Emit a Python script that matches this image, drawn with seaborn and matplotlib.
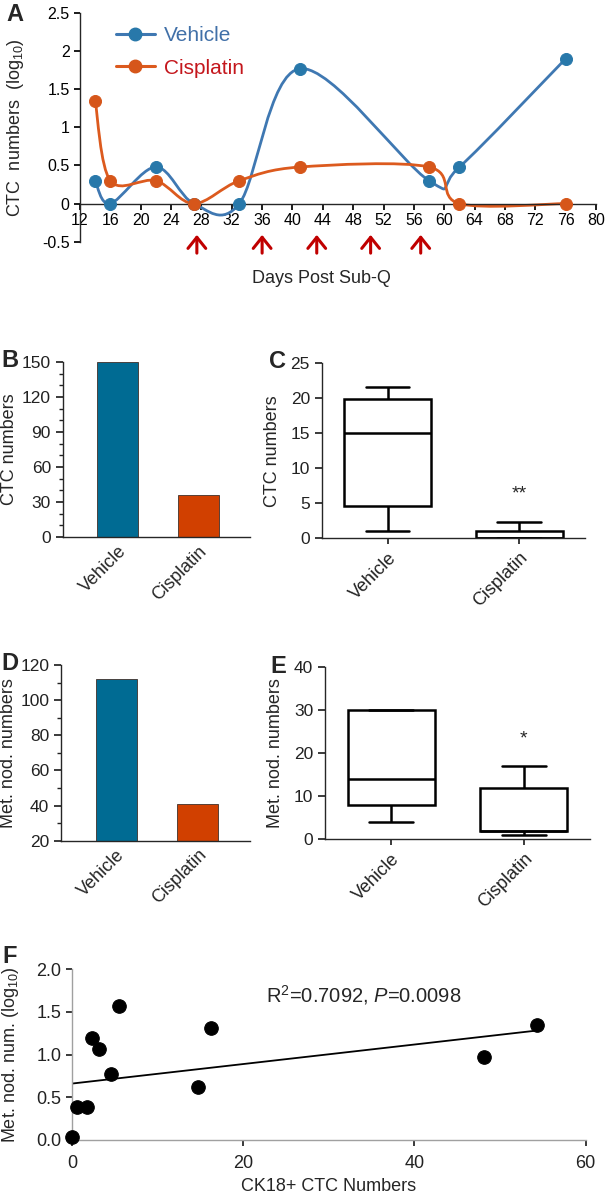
import numpy as np
import pandas as pd
import seaborn as sns
import matplotlib.pyplot as plt
from matplotlib.path import Path
from matplotlib.patches import PathPatch
from matplotlib.lines import Line2D
from matplotlib.ticker import FuncFormatter, MultipleLocator

# ---- data ----
days = [14, 16, 22, 27, 33, 41, 58, 62, 76]
log_ctc_vehicle = [0.30, 0.0, 0.48, 0.0, 0.0, 1.77, 0.30, 0.48, 1.90]
log_ctc_cisplatin = [1.35, 0.30, 0.30, 0.0, 0.30, 0.48, 0.48, 0.0, 0.0]
dose_days = [27.4, 36, 43.2, 50.3, 56.9]

groups = ['Vehicle', 'Cisplatin']
ctc_totals = [150, 36]
nodule_totals = [112, 41]

# five-number summaries (min, q1, median, q3, max)
ctc_vehicle = [1.0, 4.6, 15.0, 19.9, 21.6]
ctc_cisplatin = [0.0, 0.0, 0.0, 1.0, 2.4]
nod_vehicle = [4, 8, 14, 30, 30]
nod_cisplatin = [1, 2, 2, 12, 17]

ck18_ctc = [0.0, 0.6, 1.7, 2.3, 3.2, 4.6, 5.5, 14.7, 16.2, 48.1, 54.3]
log_nodules = [0.03, 0.39, 0.39, 1.19, 1.06, 0.77, 1.57, 0.62, 1.31, 0.97, 1.34]
fit_x = [0, 54.3]
fit_y = [0.66, 1.28]

# ---- style ----
sns.set_theme(style='ticks')
plt.rcParams['font.family'] = ['Liberation Sans', 'DejaVu Sans']
plt.rcParams['mathtext.fontset'] = 'custom'
plt.rcParams['mathtext.rm'] = 'Liberation Sans'
plt.rcParams['mathtext.it'] = 'Liberation Sans:italic'
plt.rcParams['axes.linewidth'] = 1.0

veh_line, veh_mark, veh_text = '#3F78B2', '#2878AA', '#4170A8'
cis_line, cis_mark, cis_text = '#DC5A1E', '#D6561A', '#C4161C'
bar_colors = ['#006B93', '#D14000']

W, H = 605, 1199


def px_axes(left, top, right, bottom):
    return [left / W, 1 - bottom / H, (right - left) / W, (bottom - top) / H]


def smooth_path(xs, ys):
    # Excel-like smoothed line: cubic bezier through the points
    pts = np.column_stack([xs, ys]).astype(float)
    ext = np.vstack([pts[:1], pts, pts[-1:]])
    verts = [pts[0]]
    codes = [Path.MOVETO]
    for i in range(len(pts) - 1):
        p0, p1, p2, p3 = ext[i], ext[i + 1], ext[i + 2], ext[i + 3]
        verts += [p1 + (p2 - p0) / 6, p2 - (p3 - p1) / 6, p2]
        codes += [Path.CURVE4] * 3
    return Path(verts, codes)


fig = plt.figure(figsize=(W / 100, H / 100), dpi=100)

# ---- A: time course ----
axA = fig.add_axes(px_axes(80, 13, 596, 241.7))
for ys, lc, mc in [(log_ctc_vehicle, veh_line, veh_mark), (log_ctc_cisplatin, cis_line, cis_mark)]:
    axA.add_patch(PathPatch(smooth_path(days, ys), facecolor='none', edgecolor=lc, lw=2.0))
    sns.scatterplot(x=days, y=ys, color=mc, s=75, edgecolor=mc, zorder=3, ax=axA, legend=False)
axA.set_xlim(12, 80)
axA.set_ylim(-0.5, 2.5)
axA.set_xticks(range(12, 81, 4))
axA.set_yticks(np.arange(-0.5, 2.51, 0.5))
axA.yaxis.set_major_formatter(FuncFormatter(lambda v, p: f'{v:g}'))
axA.spines['bottom'].set_position(('data', 0))
axA.spines[['top', 'right']].set_visible(False)
axA.tick_params(labelsize=11.5, length=4, colors='black')
axA.tick_params(axis='x', pad=3)
axA.set_ylabel('CTC  numbers  (log$_{10}$)', fontsize=13)
axA.yaxis.set_label_coords(-0.105, 0.5)
axA.set_xlabel('Days Post Sub-Q', fontsize=13)
axA.xaxis.set_label_coords(0.467, -0.125)
for d in dose_days:
    axA.annotate('', xy=(d, -0.41), xytext=(d, -0.65),
                 arrowprops=dict(arrowstyle='->,head_length=0.4,head_width=0.32', color='#C00000',
                                 lw=2.2, mutation_scale=20, shrinkA=0, shrinkB=0, clip_on=False),
                 annotation_clip=False)
handles = [Line2D([], [], color=veh_line, lw=2.2, marker='o', ms=9, mfc=veh_mark, mec=veh_mark),
           Line2D([], [], color=cis_line, lw=2.2, marker='o', ms=9, mfc=cis_mark, mec=cis_mark)]
leg = axA.legend(handles, groups, loc='upper left', bbox_to_anchor=(116 / W, 1 - 26 / H),
                 bbox_transform=fig.transFigure, frameon=False, fontsize=15,
                 handlelength=1.85, handletextpad=0.45, labelspacing=0.65,
                 borderpad=0, borderaxespad=0)
for t, c in zip(leg.get_texts(), [veh_text, cis_text]):
    t.set_color(c)


def bar_panel(ax, values, ylim, major, ylabel):
    sns.barplot(x=groups, y=values, hue=groups, palette=bar_colors, saturation=1, width=0.5,
                edgecolor='#40302a', linewidth=0.6, legend=False, ax=ax)
    ax.set_xlim(-0.68, 1.64)
    ax.set_ylim(*ylim)
    ax.yaxis.set_major_locator(MultipleLocator(major))
    ax.yaxis.set_minor_locator(MultipleLocator(10))
    ax.spines[['top', 'right']].set_visible(False)
    ax.tick_params(axis='y', which='major', length=5, labelsize=12.5, colors='#222222')
    ax.tick_params(axis='y', which='minor', length=3, colors='#222222')
    ax.tick_params(axis='x', length=0, labelsize=13, pad=4)
    ax.set_ylabel(ylabel, fontsize=13)
    ax.set_xlabel('')
    plt.setp(ax.get_xticklabels(), rotation=45, ha='right', rotation_mode='anchor')


def box_panel(ax, v_stats, c_stats, ylim, major, ylabel, star, star_y):
    df = pd.DataFrame({'group': [groups[0]] * len(v_stats) + [groups[1]] * len(c_stats),
                       'value': v_stats + c_stats})
    sns.boxplot(data=df, x='group', y='value', whis=(0, 100), width=0.66, color='white',
                linecolor='black', linewidth=1.8, ax=ax)
    ax.set_xlim(-0.5, 1.5)
    ax.set_ylim(*ylim)
    ax.yaxis.set_major_locator(MultipleLocator(major))
    ax.spines[['top', 'right']].set_visible(False)
    ax.tick_params(axis='y', length=5, labelsize=12.5, colors='#222222')
    ax.tick_params(axis='x', length=4, labelsize=13, pad=4, colors='#222222')
    ax.set_ylabel(ylabel, fontsize=13)
    ax.set_xlabel('')
    ax.text(1, star_y, star, ha='center', va='center', fontsize=14)
    plt.setp(ax.get_xticklabels(), rotation=45, ha='right', rotation_mode='anchor')


# ---- B / C ----
axB = fig.add_axes(px_axes(62.7, 362, 250, 537))
bar_panel(axB, ctc_totals, (0, 150), 30, 'CTC numbers')
axB.yaxis.set_label_coords(-0.24, 0.5)

axC = fig.add_axes(px_axes(321.7, 363.3, 585, 538.3))
box_panel(axC, ctc_vehicle, ctc_cisplatin, (0, 25), 5, 'CTC numbers', '**', 6.4)
axC.yaxis.set_label_coords(-0.155, 0.5)

# ---- D / E ----
axD = fig.add_axes(px_axes(61, 665, 250, 840.7))
bar_panel(axD, nodule_totals, (20, 120), 20, 'Met. nod. numbers')
axD.yaxis.set_label_coords(-0.235, 0.5)

axE = fig.add_axes(px_axes(325, 666.7, 590, 839.3))
box_panel(axE, nod_vehicle, nod_cisplatin, (0, 40), 10, 'Met. nod. numbers', '*', 23.2)
axE.yaxis.set_label_coords(-0.155, 0.5)

# ---- F: correlation ----
axF = fig.add_axes(px_axes(72, 969, 585.6, 1140))
sns.scatterplot(x=ck18_ctc, y=log_nodules, color='black', s=95, edgecolor='black',
                clip_on=False, zorder=3, ax=axF, legend=False)
sns.lineplot(x=fit_x, y=fit_y, color='black', lw=1.3, ax=axF)
axF.set_xlim(0, 60)
axF.set_ylim(0, 2.0)
axF.set_xticks([0, 20, 40, 60])
axF.set_yticks(np.arange(0, 2.01, 0.5))
axF.yaxis.set_major_formatter(FuncFormatter(lambda v, p: f'{v:.1f}'))
axF.spines[['top', 'right']].set_visible(False)
axF.spines[['left', 'bottom']].set_color('#a0a0a0')
axF.tick_params(length=4, labelsize=13, colors='#222222')
axF.tick_params(axis='x', pad=7)
axF.set_xlabel('CK18+ CTC Numbers', fontsize=13)
axF.set_ylabel('Met. nod. num. (log$_{10}$)', fontsize=13)
axF.yaxis.set_label_coords(-0.1, 0.5)
axF.text(34.1, 1.70, r'R$^2$=0.7092, $\it{P}$=0.0098', ha='center', va='center', fontsize=14.5)

# ---- panel letters ----
for letter, x, y in [('A', 6, 3), ('B', 1, 349), ('C', 269, 350), ('D', 1, 652),
                     ('E', 270, 655), ('F', 2, 945)]:
    fig.text(x / W, 1 - y / H, letter, fontsize=17, fontweight='bold', ha='left', va='top')

fig.savefig('out.png', dpi=100)
